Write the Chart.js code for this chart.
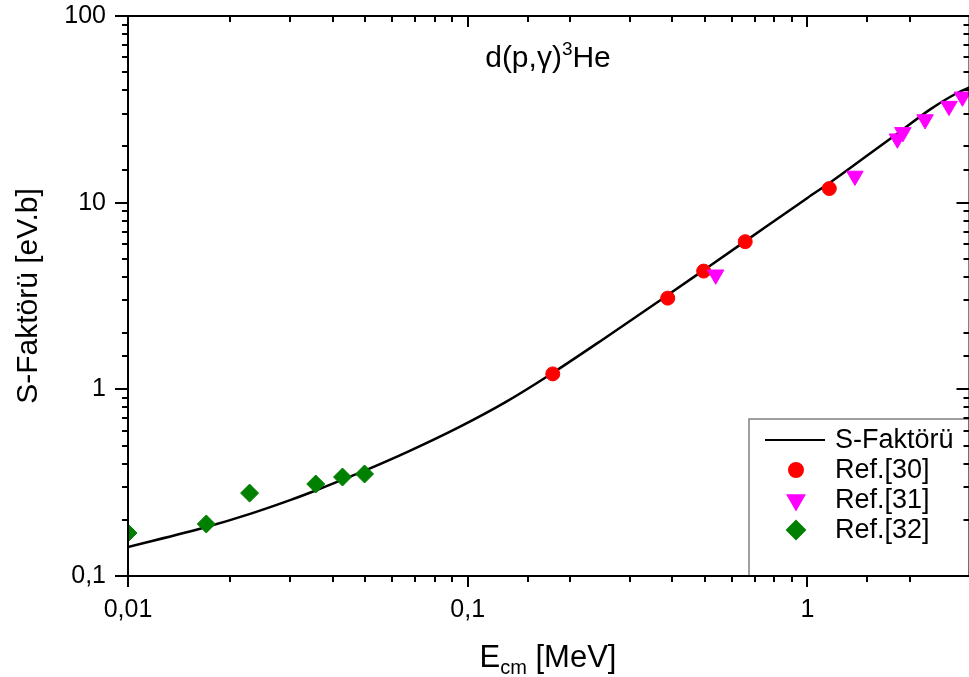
<!DOCTYPE html>
<html>
<head>
<meta charset="utf-8">
<script src="https://cdn.jsdelivr.net/npm/chart.js@4.4.1/dist/chart.umd.min.js"></script>
<style>
  html, body { margin: 0; padding: 0; background: #fff; overflow: hidden; }
  canvas { display: block; }
</style>
</head>
<body>
<canvas id="sfactor" width="980" height="677"></canvas>
<script>
// calculated S-factor, E_cm in MeV vs S in eV.b
const curveE = [0.010, 0.017, 0.023, 0.030, 0.036, 0.043, 0.050, 0.067, 0.094, 0.130, 0.170, 0.250, 0.388, 0.512, 0.753, 1.0, 1.175, 1.5, 1.85, 2.31, 2.77, 3.0];
const curveS = [0.143, 0.183, 0.216, 0.255, 0.289, 0.329, 0.368, 0.465, 0.625, 0.859, 1.16, 1.85, 3.2, 4.54, 7.40, 10.6, 12.95, 17.9, 23.6, 31.8, 38.8, 41.4];

// measured points
const ref30E = [0.178, 0.388, 0.495, 0.656, 1.16];
const ref30S = [1.21, 3.08, 4.30, 6.18, 11.9];
const ref31E = [0.537, 1.38, 1.84, 1.91, 2.22, 2.61, 2.86];
const ref31S = [4.11, 13.9, 22.0, 23.8, 27.9, 32.9, 36.9];
const ref32E = [0.010, 0.017, 0.0228, 0.0357, 0.0428, 0.0497];
const ref32S = [0.17, 0.19, 0.278, 0.311, 0.339, 0.352];

const FONT = "'Liberation Sans', Arial, sans-serif";

function pts(xs, ys) {
  return xs.map((x, i) => ({ x: x, y: ys[i] }));
}

function isDecade(v) {
  const l = Math.log10(v);
  return Math.abs(l - Math.round(l)) < 1e-6;
}

function decadeLabel(v) {
  if (!isDecade(v)) return '';
  const e = Math.round(Math.log10(v));
  return (e < 0 ? v.toFixed(-e) : String(Math.round(v))).replace('.', ',');
}

// frame, tick marks, legend box and titles
const decorations = {
  id: 'decorations',
  afterDatasetsDraw(chart) {
    const ctx = chart.ctx;
    const a = chart.chartArea;
    const xs = chart.scales.x, ys = chart.scales.y;
    ctx.save();

    // legend
    const lx = 749, ly = 419;
    ctx.fillStyle = '#fff';
    ctx.fillRect(lx, ly, a.right - lx, a.bottom - ly);
    ctx.strokeStyle = '#808080';
    ctx.lineWidth = 1.5;
    ctx.strokeRect(lx, ly, a.right - lx, a.bottom - ly);
    ctx.font = '27px ' + FONT;
    ctx.textBaseline = 'middle';
    ctx.textAlign = 'left';
    chart.data.datasets.forEach((ds, i) => {
      const y = 440 + i * 30;
      if (ds.showLine) {
        ctx.strokeStyle = ds.borderColor;
        ctx.lineWidth = 2;
        ctx.beginPath();
        ctx.moveTo(765, y);
        ctx.lineTo(825, y);
        ctx.stroke();
      } else {
        ctx.fillStyle = ds.backgroundColor;
        ctx.strokeStyle = ds.borderColor;
        Chart.helpers.drawPoint(ctx, {
          pointStyle: ds.pointStyle,
          radius: ds.pointRadius,
          rotation: ds.rotation || 0,
          borderWidth: ds.borderWidth
        }, 796, y);
      }
      ctx.fillStyle = '#000';
      ctx.fillText(ds.label, 835, y + 1);
    });

    // axes frame
    ctx.strokeStyle = '#000';
    ctx.lineWidth = 2;
    ctx.strokeRect(a.left, a.top, a.right - a.left, a.bottom - a.top);

    ctx.beginPath();
    xs.ticks.forEach(t => {
      const p = Math.round(xs.getPixelForValue(t.value));
      const len = isDecade(t.value) ? 11 : 6;
      ctx.moveTo(p, a.bottom);
      ctx.lineTo(p, a.bottom + len);
      ctx.moveTo(p, a.top);
      ctx.lineTo(p, a.top + len);
    });
    ys.ticks.forEach(t => {
      const p = Math.round(ys.getPixelForValue(t.value));
      const len = isDecade(t.value) ? 13 : 6;
      ctx.moveTo(a.left - len, p);
      ctx.lineTo(a.left, p);
      ctx.moveTo(a.right - len, p);
      ctx.lineTo(a.right, p);
    });
    ctx.stroke();

    // reaction label
    ctx.fillStyle = '#000';
    ctx.textBaseline = 'alphabetic';
    const big = '30px ' + FONT, small = '19px ' + FONT;
    ctx.font = big;
    const w1 = ctx.measureText('d(p,\u03b3)').width;
    const w3 = ctx.measureText('He').width;
    ctx.font = small;
    const w2 = ctx.measureText('3').width;
    let tx = 548 - (w1 + w2 + w3) / 2;
    ctx.font = big;
    ctx.fillText('d(p,\u03b3)', tx, 67);
    tx += w1;
    ctx.font = small;
    ctx.fillText('3', tx, 55);
    tx += w2;
    ctx.font = big;
    ctx.fillText('He', tx, 67);

    // x title
    const tbig = '31px ' + FONT, tsmall = '20px ' + FONT;
    ctx.font = tbig;
    const e1 = ctx.measureText('E').width;
    const e3 = ctx.measureText(' [MeV]').width;
    ctx.font = tsmall;
    const e2 = ctx.measureText('cm').width;
    let ex = 548 - (e1 + e2 + e3) / 2;
    ctx.font = tbig;
    ctx.fillText('E', ex, 667);
    ex += e1;
    ctx.font = tsmall;
    ctx.fillText('cm', ex, 674);
    ex += e2;
    ctx.font = tbig;
    ctx.fillText(' [MeV]', ex, 667);

    // y title
    ctx.translate(29, 296);
    ctx.rotate(-Math.PI / 2);
    ctx.textAlign = 'center';
    ctx.textBaseline = 'middle';
    ctx.font = '30px ' + FONT;
    ctx.fillText('S-Fakt\u00f6r\u00fc [eV.b]', 0, 0);

    ctx.restore();
  }
};

const hiddenGrid = {
  display: true,
  drawOnChartArea: false,
  drawTicks: true,
  color: 'rgba(0,0,0,0)',
  tickColor: 'rgba(0,0,0,0)'
};

new Chart(document.getElementById('sfactor'), {
  type: 'scatter',
  data: {
    datasets: [
      {
        label: 'S-Fakt\u00f6r\u00fc',
        data: pts(curveE, curveS),
        showLine: true,
        borderColor: '#000',
        backgroundColor: '#000',
        borderWidth: 2.5,
        pointRadius: 0,
        cubicInterpolationMode: 'monotone',
        order: 5
      },
      {
        label: 'Ref.[30]',
        data: pts(ref30E, ref30S),
        pointStyle: 'circle',
        pointRadius: 7,
        borderWidth: 1,
        backgroundColor: '#ff0000',
        borderColor: '#ff0000',
        clip: 0,
        order: 3
      },
      {
        label: 'Ref.[31]',
        data: pts(ref31E, ref31S),
        pointStyle: 'triangle',
        rotation: 180,
        pointRadius: 9.5,
        borderWidth: 1,
        backgroundColor: '#ff00ff',
        borderColor: '#ff00ff',
        clip: 0,
        order: 2
      },
      {
        label: 'Ref.[32]',
        data: pts(ref32E, ref32S),
        pointStyle: 'rectRot',
        pointRadius: 9,
        borderWidth: 1,
        backgroundColor: '#008000',
        borderColor: '#008000',
        clip: 0,
        order: 1
      }
    ]
  },
  options: {
    responsive: false,
    devicePixelRatio: 1,
    animation: false,
    layout: { padding: { top: 16, right: 9, left: 0, bottom: 0 } },
    plugins: {
      legend: { display: false },
      tooltip: { enabled: false }
    },
    scales: {
      x: {
        type: 'logarithmic',
        min: 0.01,
        max: 3,
        grid: Object.assign({}, hiddenGrid, { tickLength: 19 }),
        border: { display: false },
        ticks: {
          autoSkip: false,
          maxRotation: 0,
          padding: 0,
          color: '#000',
          font: { family: FONT, size: 25 },
          callback: v => decadeLabel(v)
        },
        afterFit: s => { s.height = 101; }
      },
      y: {
        type: 'logarithmic',
        min: 0.1,
        max: 100,
        grid: Object.assign({}, hiddenGrid, { tickLength: 22 }),
        border: { display: false },
        ticks: {
          autoSkip: false,
          padding: 0,
          color: '#000',
          font: { family: FONT, size: 25 },
          callback: v => decadeLabel(v)
        },
        afterFit: s => { s.width = 128; }
      }
    }
  },
  plugins: [decorations]
});
</script>
</body>
</html>
